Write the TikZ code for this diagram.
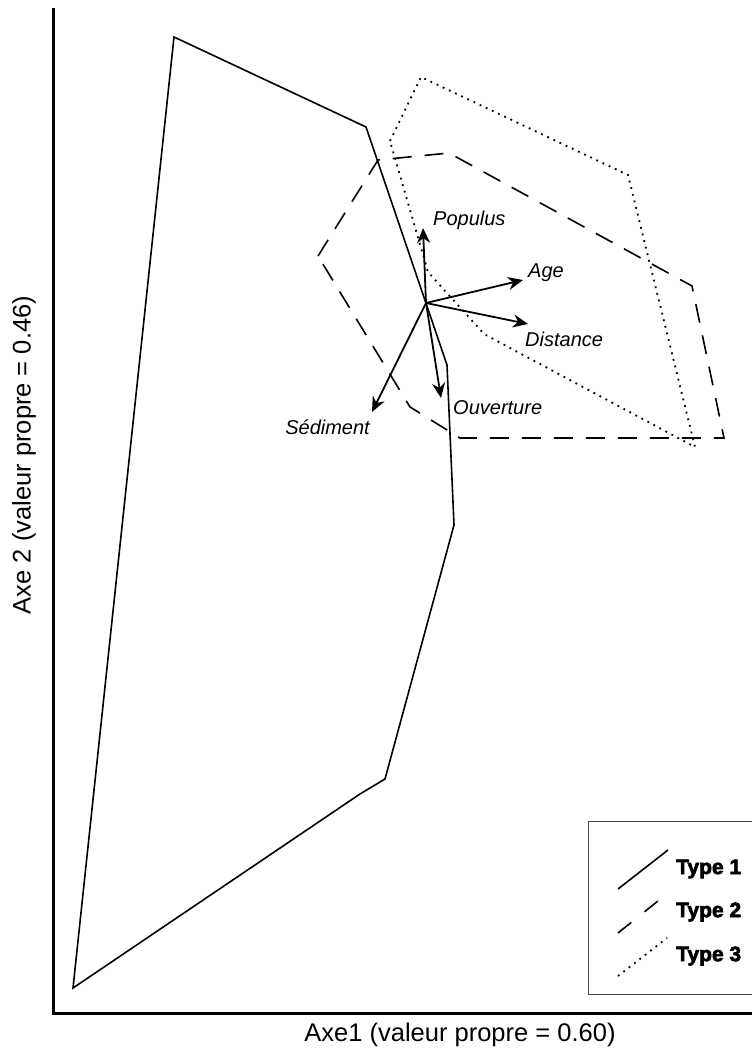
\documentclass[tikz,border=0pt]{standalone}
\usepackage{fontspec}
\setmainfont{Liberation Sans}
\newfontfamily\blackfont[FakeBold=3]{Liberation Sans}
\usetikzlibrary{arrows.meta,positioning}

\begin{document}
\begin{tikzpicture}[x=1pt,y=-1pt,
    axis/.style={line width=3pt},
    type1/.style={line width=1.6pt, line join=miter},
    type2/.style={line width=1.6pt, dash pattern=on 19pt off 13pt},
    type3/.style={line width=1.8pt, dash pattern=on 1.8pt off 5pt},
    vect/.style={line width=1.8pt, -{Stealth[length=15pt,width=13pt]}},
    vlabel/.style={font=\fontsize{20}{24}\selectfont\itshape, inner sep=0pt},
    axlabel/.style={font=\fontsize{25.5}{30}\selectfont, inner sep=0pt},
    key/.style={font=\fontsize{21}{24}\selectfont\blackfont\bfseries, anchor=west, inner sep=0pt}
]
  \useasboundingbox (0,0) rectangle (752,1055);
  \clip (0,0) rectangle (752,1055);

  % axes
  \draw[axis] (53,8) -- (53,1013) -- (752,1013);
  \node[axlabel] (xlab) at (460,1035) {Axe1 (valeur propre = 0.60)};
  \node[axlabel, rotate=90] (ylab) at (24,455) {Axe 2 (valeur propre = 0.46)};

  % enveloppes des types
  \draw[type1] (174,37) -- (366,127) -- (447,365) -- (454,525) -- (385,779)
    -- (360,794) -- (73,988) -- cycle;
  \draw[type2] (318,256) -- (378,160) -- (449,153) -- (692,286) -- (724,438)
    -- (460,438) -- (410,407) -- cycle;
  \draw[type3] (390,141) -- (421,77) -- (628,175) -- (695,447) -- (484,334)
    -- (428,272) -- cycle;

  % variables
  \coordinate (o) at (426,303);
  \coordinate (poptip) at (423,228);
  \coordinate (agetip) at (523,280);
  \coordinate (disttip) at (528,324);
  \coordinate (ouvtip) at (441,398);
  \coordinate (sedtip) at (372,412);

  \node[vlabel, anchor=west] (populus) at (433,220) {Populus};
  \node[vlabel, anchor=west] (age) at (528,273) {Age};
  \node[vlabel, anchor=west] (distance) at (525,339) {Distance};
  \node[vlabel, anchor=west] (ouverture) at (453,408) {Ouverture};
  \node[vlabel, anchor=east] (sediment) at (370,427) {Sédiment};

  \draw[vect] (o) -- (poptip);
  \draw[vect] (o) -- (agetip);
  \draw[vect] (o) -- (disttip);
  \draw[vect] (o) -- (ouvtip);
  \draw[vect] (o) -- (sedtip);

  % legende
  \draw[gray!60!black, line width=1pt] (588,821) rectangle (780,994);
  \node[key] (t1) at (676,869) {Type 1};
  \node[key] (t2) at (676,912) {Type 2};
  \node[key] (t3) at (676,956) {Type 3};
  \draw[type1] (618,889) -- (668,850);
  \draw[type2, dash pattern=on 17pt off 17pt] (618,933) -- (658,901);
  \draw[type3] (618,976) -- (667,938);
\end{tikzpicture}
\end{document}
